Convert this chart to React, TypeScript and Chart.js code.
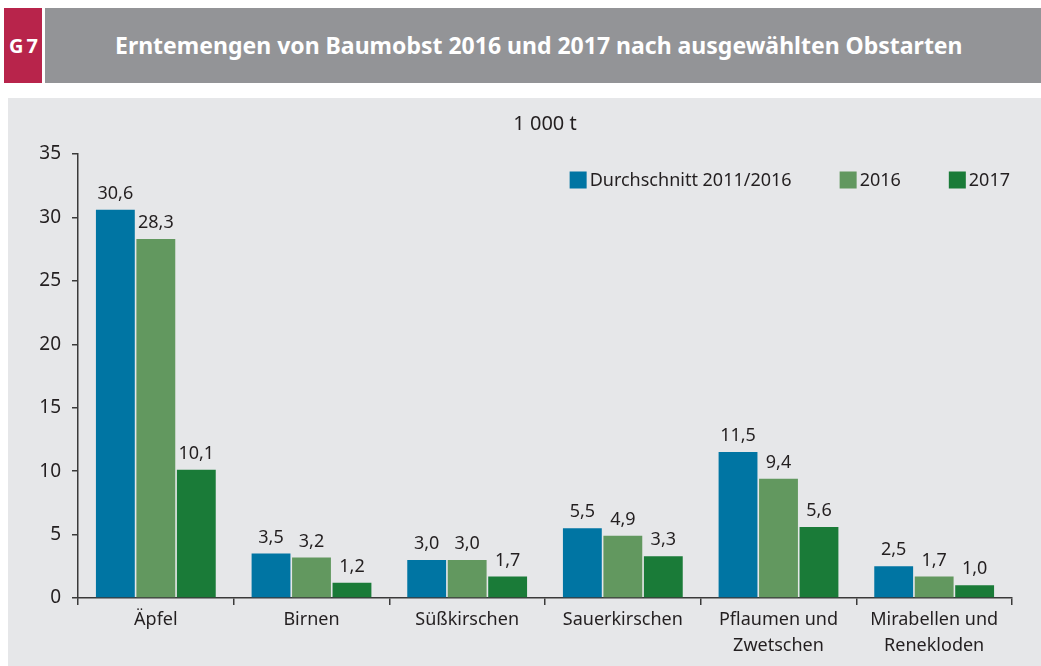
import React, { useEffect, useRef } from "react";
import { Chart, registerables } from "chart.js";

Chart.register(...registerables);

const categories: (string | string[])[] = [
  "Äpfel",
  "Birnen",
  "Süßkirschen",
  "Sauerkirschen",
  ["Pflaumen und", "Zwetschen"],
  ["Mirabellen und", "Renekloden"],
];
const seriesNames = ["Durchschnitt 2011/2016", "2016", "2017"];
const avg20112016 = [30.6, 3.5, 3.0, 5.5, 11.5, 2.5];
const values2016 = [28.3, 3.2, 3.0, 4.9, 9.4, 1.7];
const values2017 = [10.1, 1.2, 1.7, 3.3, 5.6, 1.0];
const seriesColors = ["#0075a3", "#62985f", "#1a7b38"];
const yTicks = [0, 5, 10, 15, 20, 25, 30, 35];

const FONT = "'Noto Sans', 'Open Sans', sans-serif";
const TEXT = "#231f20";

const fmt = (v: number) => v.toFixed(1).replace(".", ",");

const valueLabels = {
  id: "valueLabels",
  afterDatasetsDraw(chart: any) {
    const ctx = chart.ctx;
    ctx.save();
    ctx.font = `18px ${FONT}`;
    ctx.fillStyle = TEXT;
    ctx.textAlign = "center";
    ctx.textBaseline = "bottom";
    chart.data.datasets.forEach((ds: any, i: number) => {
      const meta = chart.getDatasetMeta(i);
      meta.data.forEach((el: any, j: number) => {
        ctx.fillText(fmt(ds.data[j]), el.x, el.y - 7);
      });
    });
    ctx.restore();
  },
};

const innerLegend = {
  id: "innerLegend",
  afterDraw(chart: any) {
    const ctx = chart.ctx;
    const area = chart.chartArea;
    ctx.save();
    ctx.font = `18px ${FONT}`;
    ctx.textBaseline = "middle";
    ctx.textAlign = "left";
    const box = 17;
    const gapText = 3;
    const gapItem = 48;
    const ds = chart.data.datasets;
    const widths = ds.map((d: any) => box + gapText + ctx.measureText(d.label).width);
    const total = widths.reduce((a: number, b: number) => a + b, 0) + gapItem * (ds.length - 1);
    let x = area.right - 2 - total;
    const yc = area.top + 26;
    ds.forEach((d: any, i: number) => {
      ctx.fillStyle = d.backgroundColor;
      ctx.fillRect(x, yc - box / 2, box, box);
      ctx.fillStyle = TEXT;
      ctx.fillText(d.label, x + box + gapText, yc + 1);
      x += widths[i] + gapItem;
    });
    ctx.restore();
  },
};

function BarChart() {
  const ref = useRef<HTMLCanvasElement | null>(null);
  useEffect(() => {
    if (!ref.current) return;
    const seriesData = [avg20112016, values2016, values2017];
    const chart = new Chart(ref.current, {
      type: "bar",
      data: {
        labels: categories,
        datasets: seriesNames.map((name, i) => ({
          label: name,
          data: seriesData[i],
          backgroundColor: seriesColors[i],
          borderWidth: 0,
          categoryPercentage: 0.78,
          barPercentage: 0.96,
        })),
      },
      options: {
        responsive: false,
        animation: false,
        layout: { padding: { left: 0, right: 29, top: 0, bottom: 0 } },
        plugins: {
          legend: { display: false },
          tooltip: { enabled: false },
          title: {
            display: true,
            text: "1 000 t",
            fullSize: false,
            color: TEXT,
            font: { family: FONT, size: 20, weight: "normal", lineHeight: 1.2 },
            padding: { top: 14, bottom: 18 },
          },
        },
        scales: {
          x: {
            afterFit: (s: any) => {
              s.height = 68;
            },
            border: { color: "#3a3a3a", width: 1.5 },
            grid: {
              offset: true,
              drawOnChartArea: false,
              drawTicks: true,
              tickLength: 7,
              color: "#3a3a3a",
              lineWidth: 1.5,
            },
            ticks: {
              color: TEXT,
              padding: 2,
              font: { family: FONT, size: 18, lineHeight: 1.45 },
              maxRotation: 0,
              autoSkip: false,
            },
          },
          y: {
            min: 0,
            max: 35,
            afterFit: (s: any) => {
              s.width = 70;
            },
            afterBuildTicks: (s: any) => {
              s.ticks = yTicks.map((v) => ({ value: v }));
            },
            border: { color: "#3a3a3a", width: 1.5 },
            grid: {
              drawOnChartArea: false,
              drawTicks: true,
              tickLength: 6,
              color: "#3a3a3a",
              lineWidth: 1.5,
            },
            ticks: {
              color: TEXT,
              padding: 11,
              font: { family: FONT, size: 19 },
            },
          },
        },
      },
      plugins: [valueLabels, innerLegend],
    });
    return () => chart.destroy();
  }, []);
  return <canvas ref={ref} width={1033} height={568} style={{ display: "block" }} />;
}

export default function App() {
  return (
    <div
      style={{
        position: "absolute",
        left: 0,
        top: 0,
        width: 1041,
        height: 666,
        background: "#ffffff",
        fontFamily: FONT,
        overflow: "hidden",
      }}
    >
      <div
        style={{
          position: "absolute",
          left: 4,
          top: 8,
          width: 38,
          height: 75,
          background: "#b8244b",
          color: "#fff",
          fontWeight: 700,
          fontSize: 20,
          letterSpacing: -1,
          whiteSpace: "nowrap",
          display: "flex",
          alignItems: "center",
          justifyContent: "center",
        }}
      >
        G 7
      </div>
      <div
        style={{
          position: "absolute",
          left: 45,
          top: 8,
          width: 996,
          height: 75,
          background: "#939497",
          color: "#fff",
          fontWeight: 700,
          fontSize: 23,
          whiteSpace: "nowrap",
          display: "flex",
          alignItems: "center",
          paddingLeft: 70,
          paddingBottom: 2,
          boxSizing: "border-box",
        }}
      >
        Erntemengen von Baumobst 2016 und 2017 nach ausgewählten Obstarten
      </div>
      <div
        style={{
          position: "absolute",
          left: 8,
          top: 98,
          width: 1033,
          height: 568,
          background: "#e6e7e9",
        }}
      >
        <BarChart />
      </div>
    </div>
  );
}
